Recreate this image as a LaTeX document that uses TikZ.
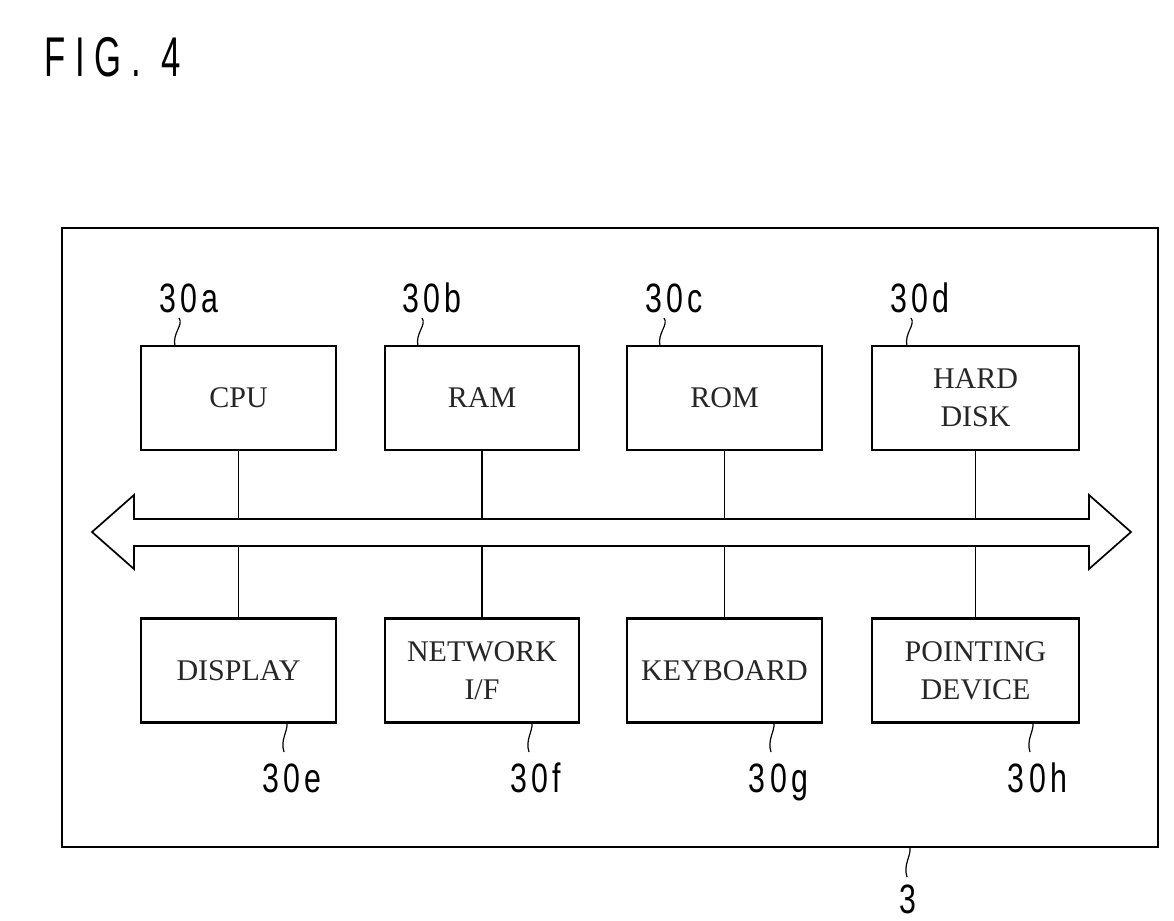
\documentclass[tikz,border=0pt]{standalone}
\usepackage{fontspec}
\setmainfont{Liberation Serif}
\newfontfamily\labfont[LetterSpace=14]{Liberation Sans}
\newfontfamily\figfont[LetterSpace=28]{Liberation Sans}
\begin{document}
\begin{tikzpicture}[x=1pt,y=-1pt,
  blk/.style={draw=black,line width=2.2pt,inner sep=0pt,align=center,
    font=\fontsize{30}{38}\selectfont,text=black!85},
  conn/.style={line width=1.5pt},
  leader/.style={line width=1.2pt},
  reflab/.style={anchor=base,inner sep=0pt,font=\labfont\fontsize{41}{41}\selectfont},
  bus/.style={line width=1.7pt,line join=miter}]
\useasboundingbox (0,0) rectangle (1174,920);
% title
\node[anchor=base west,inner sep=0pt,font=\figfont\fontsize{56}{56}\selectfont] (fig) at (44,77) {\scalebox{0.62}[1]{FIG.\hspace{34pt}4}};
% outer frame
\node[draw=black,line width=2.6pt,minimum width=1096pt,minimum height=619pt,inner sep=0pt] (frame) at (610,537.5) {};
% top boxes
\node[blk,minimum width=195pt,minimum height=104pt] (cpu) at (238.5,398) {CPU};
\node[blk,minimum width=194pt,minimum height=104pt] (ram) at (482,398) {RAM};
\node[blk,minimum width=195pt,minimum height=104pt] (rom) at (724.5,398) {ROM};
\node[blk,minimum width=207pt,minimum height=104pt] (hd) at (975.5,398) {HARD\\DISK};
% bottom boxes
\node[blk,minimum width=195pt,minimum height=104pt] (disp) at (238.5,670.5) {DISPLAY};
\node[blk,minimum width=194pt,minimum height=104pt] (net) at (482,670.5) {NETWORK\\I/F};
\node[blk,minimum width=195pt,minimum height=104pt] (kbd) at (724.5,670.5) {KEYBOARD};
\node[blk,minimum width=207pt,minimum height=104pt] (pd) at (975.5,670.5) {POINTING\\DEVICE};
% bus
\draw[bus] (92,532) -- (134,495) -- (134,519) -- (1089,519) -- (1089,495) -- (1131,532)
  -- (1089,569) -- (1089,546) -- (134,546) -- (134,569) -- cycle;
\coordinate (bt) at (600,519);
\coordinate (bb) at (600,546);
% connectors
\foreach \n in {cpu,ram,rom,hd} \draw[conn] (\n.south) -- (\n.south |- bt);
\foreach \n in {disp,net,kbd,pd} \draw[conn] (\n.north) -- (\n.north |- bb);
% reference labels
\node[reflab] (la) at (189,312) {\scalebox{0.74}[1]{30a}};
\node[reflab] (lb) at (432,312) {\scalebox{0.74}[1]{30b}};
\node[reflab] (lc) at (674,312) {\scalebox{0.74}[1]{30c}};
\node[reflab] (ld) at (920,312) {\scalebox{0.74}[1]{30d}};
\node[reflab] (le) at (292,792) {\scalebox{0.74}[1]{30e}};
\node[reflab] (lf) at (536,792) {\scalebox{0.74}[1]{30f}};
\node[reflab] (lg) at (778.5,792) {\scalebox{0.74}[1]{30g}};
\node[reflab] (lh) at (1037.5,792) {\scalebox{0.74}[1]{30h}};
\node[reflab] (l3) at (908,913) {\scalebox{0.74}[1]{3}};
% leaders (top)
\foreach \xa in {179,422,664,911}
  \draw[leader] (\xa,318) .. controls (\xa+5,325) and (\xa-7,333) .. (\xa-4,346);
% leaders (bottom)
\foreach \xa in {287,532,774,1033}
  \draw[leader] (\xa,723) .. controls (\xa+1,731) and (\xa-7,740) .. (\xa-3,752);
\draw[leader] (910,848) .. controls (911,856) and (903,865) .. (907,877);
\end{tikzpicture}
\end{document}
